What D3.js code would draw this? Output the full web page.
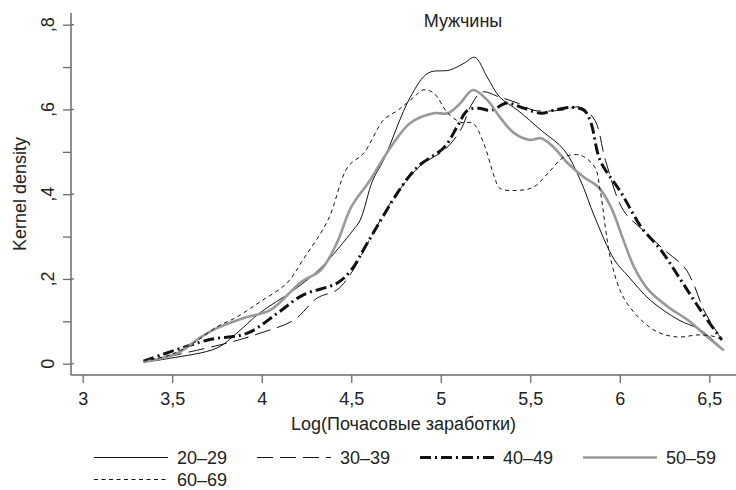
<!DOCTYPE html>
<html>
<head>
<meta charset="utf-8">
<script src="https://cdn.jsdelivr.net/npm/d3@7"></script>
<style>
  html, body { margin: 0; padding: 0; background: #fff; }
  svg { display: block; font-family: "Liberation Sans", Arial, sans-serif; }
</style>
</head>
<body>
<svg id="chart" width="736" height="490"></svg>
<script>
// chart values: [log hourly wage, density]
const title = "Мужчины";
const xTitle = "Log(Почасовые заработки)";
const yTitle = "Kernel density";
const xTicks = [3, 3.5, 4, 4.5, 5, 5.5, 6, 6.5];
const yTicks = [0, 0.2, 0.4, 0.6, 0.8];
const yMinorTicks = [0.1, 0.3, 0.5, 0.7];
const ageGroups = ["20–29", "30–39", "40–49", "50–59", "60–69"];

const age20 = [[3.35,0.004],[3.49,0.013],[3.75,0.037],[3.86,0.072],[3.99,0.12],[4.18,0.174],[4.33,0.226],
  [4.51,0.315],[4.55,0.339],[4.62,0.433],[4.68,0.48],[4.83,0.629],[4.93,0.686],[5.05,0.693],[5.13,0.709],
  [5.19,0.723],[5.26,0.676],[5.33,0.629],[5.43,0.598],[5.56,0.551],[5.69,0.504],[5.78,0.433],[5.86,0.346],
  [5.97,0.245],[6.05,0.205],[6.17,0.15],[6.33,0.103],[6.45,0.08],[6.58,0.032]];
const age30 = [[3.34,0.004],[3.81,0.049],[3.99,0.072],[4.18,0.103],[4.31,0.155],[4.42,0.174],[4.5,0.214],
  [4.61,0.299],[4.74,0.393],[4.89,0.469],[5.02,0.504],[5.11,0.551],[5.17,0.61],[5.23,0.641],[5.33,0.629],
  [5.43,0.615],[5.52,0.598],[5.67,0.598],[5.78,0.605],[5.86,0.575],[5.92,0.48],[6.02,0.362],[6.13,0.315],
  [6.25,0.268],[6.36,0.228],[6.41,0.19],[6.47,0.126],[6.56,0.063]];
const age40 = [[3.34,0.006],[3.7,0.056],[3.92,0.072],[4.09,0.12],[4.23,0.162],[4.42,0.19],[4.5,0.221],
  [4.59,0.285],[4.78,0.417],[4.87,0.464],[5.02,0.511],[5.09,0.558],[5.15,0.598],[5.21,0.603],[5.28,0.598],
  [5.37,0.615],[5.45,0.605],[5.56,0.591],[5.63,0.598],[5.73,0.605],[5.8,0.598],[5.84,0.567],[5.89,0.48],
  [6.01,0.402],[6.12,0.322],[6.23,0.268],[6.34,0.198],[6.45,0.127],[6.57,0.056]];
const age50 = [[3.34,0.004],[3.53,0.025],[3.66,0.063],[3.75,0.084],[3.9,0.108],[4.05,0.127],[4.22,0.193],
  [4.33,0.221],[4.42,0.285],[4.5,0.37],[4.6,0.43],[4.72,0.511],[4.83,0.568],[4.96,0.591],[5.04,0.591],
  [5.11,0.615],[5.18,0.646],[5.26,0.622],[5.33,0.582],[5.41,0.544],[5.5,0.528],[5.56,0.532],[5.63,0.511],
  [5.71,0.473],[5.8,0.44],[5.88,0.417],[5.95,0.37],[6.02,0.292],[6.08,0.228],[6.16,0.174],[6.27,0.134],
  [6.38,0.103],[6.49,0.063],[6.58,0.032]];
const age60 = [[3.34,0.006],[3.49,0.021],[3.62,0.049],[3.75,0.087],[3.86,0.11],[3.99,0.146],[4.14,0.19],
  [4.23,0.245],[4.37,0.339],[4.48,0.464],[4.57,0.497],[4.68,0.575],[4.76,0.598],[4.85,0.629],[4.9,0.646],
  [4.96,0.639],[5.04,0.591],[5.11,0.57],[5.18,0.567],[5.24,0.52],[5.3,0.44],[5.33,0.414],[5.43,0.409],
  [5.52,0.417],[5.6,0.45],[5.69,0.488],[5.78,0.492],[5.86,0.464],[5.89,0.41],[5.95,0.245],[6.02,0.157],
  [6.12,0.103],[6.21,0.075],[6.32,0.063],[6.45,0.068],[6.55,0.061],[6.58,0.049]];

const seriesData = [age20, age30, age40, age50, age60];

// line styles per age group
const styles = [
  { stroke: "#111", width: 1, dash: null },
  { stroke: "#111", width: 1, dash: "16,7" },
  { stroke: "#111", width: 3, dash: "11,4,2,4" },
  { stroke: "#999", width: 2.6, dash: null },
  { stroke: "#111", width: 1, dash: "4,3.5" }
];

const svg = d3.select("#chart");
const axisColor = "#6a6a6a";
const textColor = "#222";

const x = d3.scaleLinear().domain([3, 6.5]).range([82.7, 709.3]);
const y = d3.scaleLinear().domain([0, 0.8]).range([363.7, 24.7]);

const plotLeft = 71, plotRight = 736, plotTop = 13, plotBottom = 375;
const comma = v => v === 0 ? "0" : String(v).replace(/^0\./, ",").replace(".", ",");

// y axis
const gy = svg.append("g").attr("transform", `translate(${plotLeft},0)`);
gy.call(d3.axisLeft(y).tickValues(yTicks.concat(yMinorTicks)).tickSize(8).tickFormat(""));
gy.select(".domain").remove();
gy.selectAll(".tick line").attr("stroke", axisColor).attr("stroke-width", 1.3);
gy.selectAll(".tick text").remove();
gy.selectAll(".major")
  .data(yTicks)
  .join("line")
  .attr("x1", 0).attr("x2", 3)
  .attr("y1", d => y(d)).attr("y2", d => y(d))
  .attr("stroke", axisColor).attr("stroke-width", 1.3);
gy.selectAll(".ylab")
  .data(yTicks)
  .join("text")
  .attr("transform", d => `translate(-17.5,${y(d)}) rotate(-90)`)
  .attr("text-anchor", "middle")
  .attr("fill", textColor)
  .style("font-size", "18px")
  .text(comma);
svg.append("line")
  .attr("x1", plotLeft).attr("x2", plotLeft)
  .attr("y1", plotTop).attr("y2", plotBottom)
  .attr("stroke", axisColor).attr("stroke-width", 1.5);

// x axis
const gx = svg.append("g").attr("transform", `translate(0,${plotBottom})`);
gx.call(d3.axisBottom(x).tickValues(xTicks).tickSize(8).tickPadding(8).tickFormat(comma));
gx.select(".domain").remove();
gx.selectAll(".tick line").attr("stroke", axisColor).attr("stroke-width", 1.3);
gx.selectAll(".tick text").attr("fill", textColor).style("font-size", "18px")
  .attr("font-family", null).attr("dy", null).attr("y", 30);
svg.append("line")
  .attr("x1", plotLeft).attr("x2", plotRight)
  .attr("y1", plotBottom).attr("y2", plotBottom)
  .attr("stroke", axisColor).attr("stroke-width", 1.5);

// titles
svg.append("text")
  .attr("x", (plotLeft + plotRight) / 2).attr("y", 430)
  .attr("text-anchor", "middle").attr("fill", textColor)
  .style("font-size", "18px").text(xTitle);
svg.append("text")
  .attr("transform", `translate(26,${(plotTop + plotBottom) / 2}) rotate(-90)`)
  .attr("text-anchor", "middle").attr("fill", textColor)
  .style("font-size", "18px").text(yTitle);
svg.append("text")
  .attr("x", 463).attr("y", 27)
  .attr("text-anchor", "middle").attr("fill", textColor)
  .style("font-size", "18px").text(title);

// curves
const line = d3.line()
  .x(d => x(d[0]))
  .y(d => y(d[1]))
  .curve(d3.curveCatmullRom.alpha(0.5));

svg.append("g").attr("class", "curves")
  .selectAll("path")
  .data(seriesData)
  .join("path")
  .attr("d", line)
  .attr("fill", "none")
  .attr("stroke", (d, i) => styles[i].stroke)
  .attr("stroke-width", (d, i) => styles[i].width)
  .attr("stroke-dasharray", (d, i) => styles[i].dash)
  .attr("stroke-linejoin", "round");

// legend: 4 columns, 2 rows
const legend = svg.append("g").attr("class", "legend");
const item = legend.selectAll("g")
  .data(ageGroups)
  .join("g")
  .attr("transform", (d, i) => `translate(${94 + (i % 4) * 163},${457.5 + Math.floor(i / 4) * 22})`);
item.append("line")
  .attr("x1", 0).attr("x2", 74)
  .attr("y1", 0).attr("y2", 0)
  .attr("stroke", (d, i) => styles[i].stroke)
  .attr("stroke-width", (d, i) => styles[i].width)
  .attr("stroke-dasharray", (d, i) => styles[i].dash);
item.append("text")
  .attr("x", 83).attr("y", 6.5)
  .attr("fill", textColor)
  .style("font-size", "18px")
  .text(d => d);
</script>
</body>
</html>
